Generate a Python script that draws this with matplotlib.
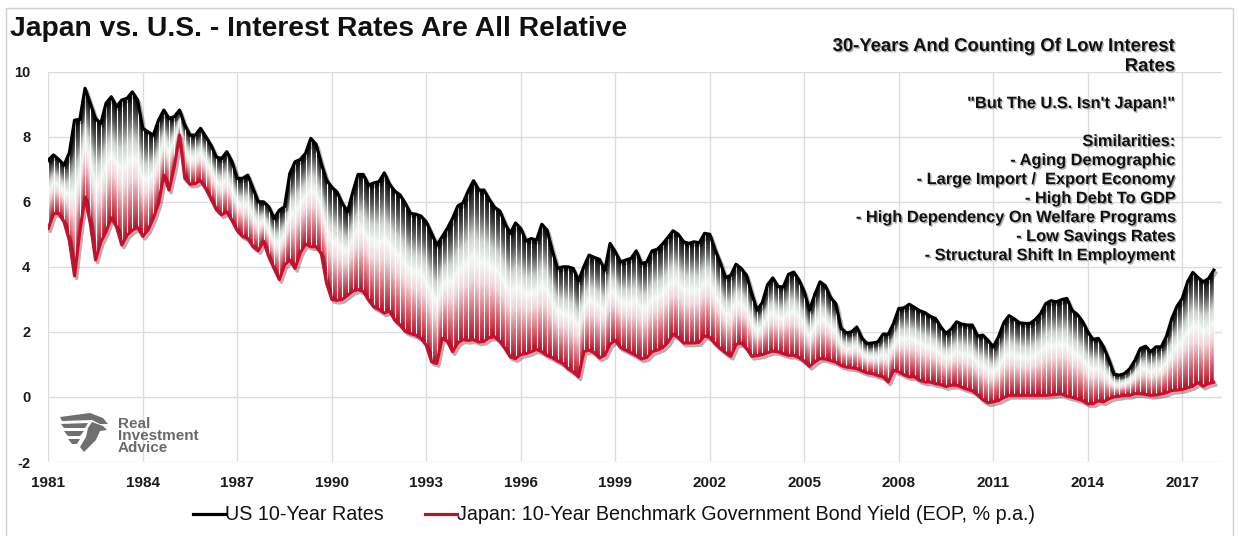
import numpy as np
import matplotlib
matplotlib.use("Agg")
import matplotlib.pyplot as plt
from matplotlib import patheffects as pe
from matplotlib.colors import LinearSegmentedColormap
from matplotlib.lines import Line2D
from matplotlib.patches import Polygon, Rectangle

plt.rcParams['font.family'] = ['Liberation Sans', 'DejaVu Sans']
plt.rcParams['axes.unicode_minus'] = False

# ---------------- data (bi-monthly, starting Jan 1981) ----------------
start_year = 1981
steps_per_year = 6

us_10y = [
    7.28, 7.44, 7.30, 7.13, 7.50, 8.51,
    8.53, 9.49, 9.03, 8.56, 8.41, 9.03,
    9.23, 8.92, 9.13, 9.18, 9.38, 9.13,
    8.26, 8.15, 8.05, 8.51, 8.82, 8.56,
    8.62, 8.82, 8.36, 8.05, 8.05, 8.26,
    8.00, 7.74, 7.38, 7.33, 7.54, 7.23,
    6.72, 6.72, 6.82, 6.41, 6.00, 6.00,
    5.85, 5.49, 5.74, 5.85, 6.87, 7.23,
    7.30, 7.49, 7.95, 7.77, 7.18, 6.67,
    6.45, 6.30, 5.95, 5.70, 6.30, 6.84,
    6.84, 6.51, 6.58, 6.62, 6.89, 6.54,
    6.33, 6.21, 5.95, 5.64, 5.62, 5.56,
    5.38, 5.03, 4.67, 4.92, 5.18, 5.49,
    5.87, 5.97, 6.34, 6.65, 6.36, 6.36,
    6.07, 5.83, 5.72, 5.33, 5.03, 5.35,
    5.18, 4.80, 4.87, 4.82, 5.31, 5.13,
    4.50, 3.95, 4.00, 4.00, 3.95, 3.57,
    4.00, 4.36, 4.29, 4.23, 3.90, 4.72,
    4.46, 4.15, 4.21, 4.26, 4.49, 4.10,
    4.15, 4.49, 4.54, 4.70, 4.90, 5.11,
    5.00, 4.77, 4.72, 4.77, 4.74, 5.03,
    5.00, 4.53, 4.13, 3.67, 3.74, 4.08,
    3.95, 3.74, 3.18, 2.67, 2.90, 3.45,
    3.66, 3.40, 3.38, 3.77, 3.84, 3.59,
    3.23, 2.67, 3.15, 3.54, 3.42, 3.06,
    2.87, 2.12, 1.97, 2.00, 2.15, 1.80,
    1.64, 1.66, 1.69, 1.93, 1.93, 2.26,
    2.72, 2.74, 2.85, 2.75, 2.65, 2.59,
    2.48, 2.41, 2.15, 1.95, 2.09, 2.31,
    2.24, 2.21, 2.21, 1.87, 1.90, 1.74,
    1.54, 1.85, 2.28, 2.50, 2.40, 2.28,
    2.26, 2.26, 2.38, 2.56, 2.87, 2.96,
    2.92, 2.99, 3.03, 2.66, 2.54, 2.32,
    2.00, 1.77, 1.80, 1.54, 1.15, 0.70,
    0.67, 0.72, 0.87, 1.13, 1.49, 1.56,
    1.39, 1.54, 1.54, 1.87, 2.41, 2.79,
    3.03, 3.54, 3.83, 3.67, 3.54, 3.64,
    3.90,
]

japan_10y = [
    5.18, 5.64, 5.64, 5.38, 4.82, 3.72,
    5.08, 6.15, 5.33, 4.21, 4.76, 5.08,
    5.51, 5.23, 4.67, 4.97, 5.12, 5.21,
    4.94, 5.13, 5.49, 5.95, 6.82, 6.36,
    7.08, 8.05, 6.72, 6.54, 6.56, 6.65,
    6.40, 6.09, 5.76, 5.60, 5.69, 5.42,
    5.11, 4.94, 4.87, 4.62, 4.50, 4.79,
    4.31, 3.95, 3.61, 4.05, 4.21, 3.95,
    4.43, 4.70, 4.62, 4.62, 4.41, 3.50,
    3.00, 2.97, 3.00, 3.12, 3.25, 3.30,
    3.25, 2.98, 2.77, 2.69, 2.58, 2.64,
    2.36, 2.21, 2.02, 1.95, 1.90, 1.80,
    1.59, 1.08, 1.03, 1.80, 1.72, 1.39,
    1.66, 1.76, 1.74, 1.76, 1.69, 1.71,
    1.82, 1.85, 1.71, 1.49, 1.23, 1.18,
    1.30, 1.33, 1.39, 1.46, 1.39, 1.28,
    1.21, 1.11, 1.03, 0.87, 0.77, 0.62,
    1.39, 1.44, 1.36, 1.20, 1.28, 1.62,
    1.74, 1.52, 1.44, 1.36, 1.27, 1.17,
    1.21, 1.39, 1.44, 1.51, 1.67, 1.93,
    1.83, 1.66, 1.66, 1.66, 1.68, 1.88,
    1.83, 1.64, 1.49, 1.36, 1.25, 1.61,
    1.66, 1.49, 1.25, 1.27, 1.30, 1.36,
    1.41, 1.39, 1.33, 1.28, 1.28, 1.21,
    1.10, 0.94, 1.07, 1.18, 1.17, 1.12,
    1.07, 0.97, 0.92, 0.90, 0.87, 0.80,
    0.74, 0.72, 0.66, 0.62, 0.46, 0.82,
    0.77, 0.68, 0.62, 0.62, 0.51, 0.46,
    0.46, 0.41, 0.38, 0.32, 0.36, 0.36,
    0.30, 0.24, 0.19, 0.07, -0.08, -0.18,
    -0.15, -0.11, -0.02, 0.05, 0.05, 0.05,
    0.05, 0.05, 0.05, 0.05, 0.05, 0.06,
    0.08, 0.09, 0.03, -0.01, -0.06, -0.11,
    -0.21, -0.21, -0.12, -0.15, -0.06, 0.00,
    0.02, 0.05, 0.05, 0.10, 0.10, 0.08,
    0.05, 0.06, 0.09, 0.13, 0.20, 0.21,
    0.23, 0.28, 0.33, 0.44, 0.33, 0.41,
    0.45,
]

x_ticks = [1981, 1984, 1987, 1990, 1993, 1996, 1999, 2002, 2005, 2008, 2011, 2014, 2017]
y_ticks = [-2, 0, 2, 4, 6, 8, 10]

title = "Japan vs. U.S. - Interest Rates Are All Relative"
legend_labels = ["US 10-Year Rates",
                 "Japan: 10-Year Benchmark Government Bond Yield (EOP, % p.a.)"]
note_head = ["30-Years And Counting Of Low Interest", "Rates"]
note_lines = [
    "",
    "\"But The U.S. Isn't Japan!\"",
    "",
    "Similarities:",
    "- Aging Demographic",
    "- Large Import /  Export Economy",
    "- High Debt To GDP",
    "- High Dependency On Welfare Programs",
    "- Low Savings Rates",
    "- Structural Shift In Employment",
]
logo_lines = ["Real", "Investment", "Advice"]

# ---------------- figure ----------------
W, H = 1239, 536
fig = plt.figure(figsize=(W / 100, H / 100), dpi=100)
fig.patch.set_facecolor("white")

us = np.array(us_10y)
jp = np.array(japan_10y)
years = start_year + np.arange(len(us)) / steps_per_year

ax = fig.add_axes([48.3 / W, 1 - 462 / H, (1222 - 48.3) / W, (462 - 71.7) / H])

# gradient band between the two series
band_cmap = LinearSegmentedColormap.from_list("band", [
    (0.00, "#b3122b"), (0.16, "#d0606e"), (0.38, "#f2d6da"),
    (0.52, "#f4faf4"), (0.66, "#cdd4cd"), (0.83, "#555555"), (1.00, "#000000")])
xs = np.linspace(years[0], years[-1], 1600)
ys = np.linspace(-1, 10, 800)
us_i = np.interp(xs, years, us)
jp_i = np.interp(xs, years, jp)
T = (ys[:, None] - jp_i[None, :]) / np.maximum(us_i - jp_i, 1e-6)[None, :]
rgba = band_cmap(np.clip(T, 0, 1))
im = ax.imshow(rgba, extent=[years[0], years[-1], -1, 10], origin="lower",
               aspect="auto", interpolation="bilinear", zorder=2)
band = ax.fill_between(years, jp, us, facecolor="none", edgecolor="none", zorder=2)
im.set_clip_path(band.get_paths()[0], ax.transData)
ax.vlines(years, jp, us, colors="white", linewidth=0.8, zorder=3)

shadow = [pe.SimpleLineShadow(offset=(1.5, -2), shadow_color="black", alpha=0.3), pe.Normal()]
ax.plot(years, jp, color="#c8102e", lw=2.3, zorder=4, path_effects=shadow,
        solid_joinstyle="round")
ax.plot(years, us, color="black", lw=2.3, zorder=5, path_effects=shadow,
        solid_joinstyle="round")

ax.set_xlim(1981, 1981 + (1222 - 48.3) / 31.5)
ax.set_ylim(-2, 10)
ax.set_xticks(x_ticks)
ax.set_yticks(y_ticks)
ax.grid(True, color="#dcdcdc", lw=1.0)
ax.set_axisbelow(True)
for s in ax.spines.values():
    s.set_visible(False)
ax.tick_params(axis="both", length=0, colors="#1a1a1a")
ax.tick_params(axis="y", labelsize=10.5, pad=13)
ax.tick_params(axis="x", labelsize=11, pad=10)
for lbl in ax.get_xticklabels() + ax.get_yticklabels():
    lbl.set_fontweight("bold")

# title
fig.text(10 / W, 1 - 36 / H, title, fontsize=20.3, fontweight="bold",
         ha="left", va="baseline", color="#111111")

# annotation block
note_pe = [pe.SimplePatchShadow(offset=(1.0, -1.0), shadow_rgbFace="#777777", alpha=0.6),
           pe.Normal()]
for i, line in enumerate(note_head):
    fig.text(1175 / W, 1 - (51 + 20 * i) / H, line, fontsize=13.3, fontweight="bold",
             ha="right", va="baseline", color="#111111", path_effects=note_pe)
for i, line in enumerate(note_lines):
    if line:
        fig.text(1175 / W, 1 - (51 + 19 * (i + 2)) / H, line, fontsize=11.8,
                 fontweight="bold", ha="right", va="baseline", color="#111111",
                 path_effects=note_pe)

# legend
handles = [Line2D([], [], color="black", lw=2.3), Line2D([], [], color="#b0182a", lw=2.3)]
fig.legend(handles, legend_labels, loc="center", bbox_to_anchor=(614 / W, 1 - 515 / H),
           ncol=2, frameon=False, fontsize=14.2, handlelength=1.6, handletextpad=0.0,
           columnspacing=2.1, labelcolor="#111111")

# logo
def fp(px, py):
    return (px / W, 1 - py / H)

feathers = [
    [(60, 417), (90, 413), (103, 418), (108, 424), (100, 424), (92, 420), (62, 421)],
    [(61, 424), (88, 423), (85, 428), (64, 428)],
    [(64, 431), (84, 431), (80, 436), (68, 436)],
    [(68, 439), (80, 439), (77, 444), (72, 444)],
    [(92, 422), (103, 426), (107, 430), (100, 431), (96, 440), (84, 452), (80, 447),
     (86, 437), (88, 428)],
]
for f in feathers:
    fig.patches.append(Polygon([fp(*p) for p in f], closed=True, transform=fig.transFigure,
                               facecolor="#6f6f6f", edgecolor="none"))
for i, t in enumerate(logo_lines):
    fig.text(118 / W, 1 - (428 + 12 * i) / H, t, fontsize=11, fontweight="bold",
             color="#6a6a6a", ha="left", va="baseline")

# frame
fig.patches.append(Rectangle(fp(6, 545), (1233 - 6) / W, (545 - 8) / H,
                             transform=fig.transFigure, fill=False,
                             edgecolor="#d0d0d0", lw=1.0))

fig.savefig("out.png", dpi=100, facecolor="white")
